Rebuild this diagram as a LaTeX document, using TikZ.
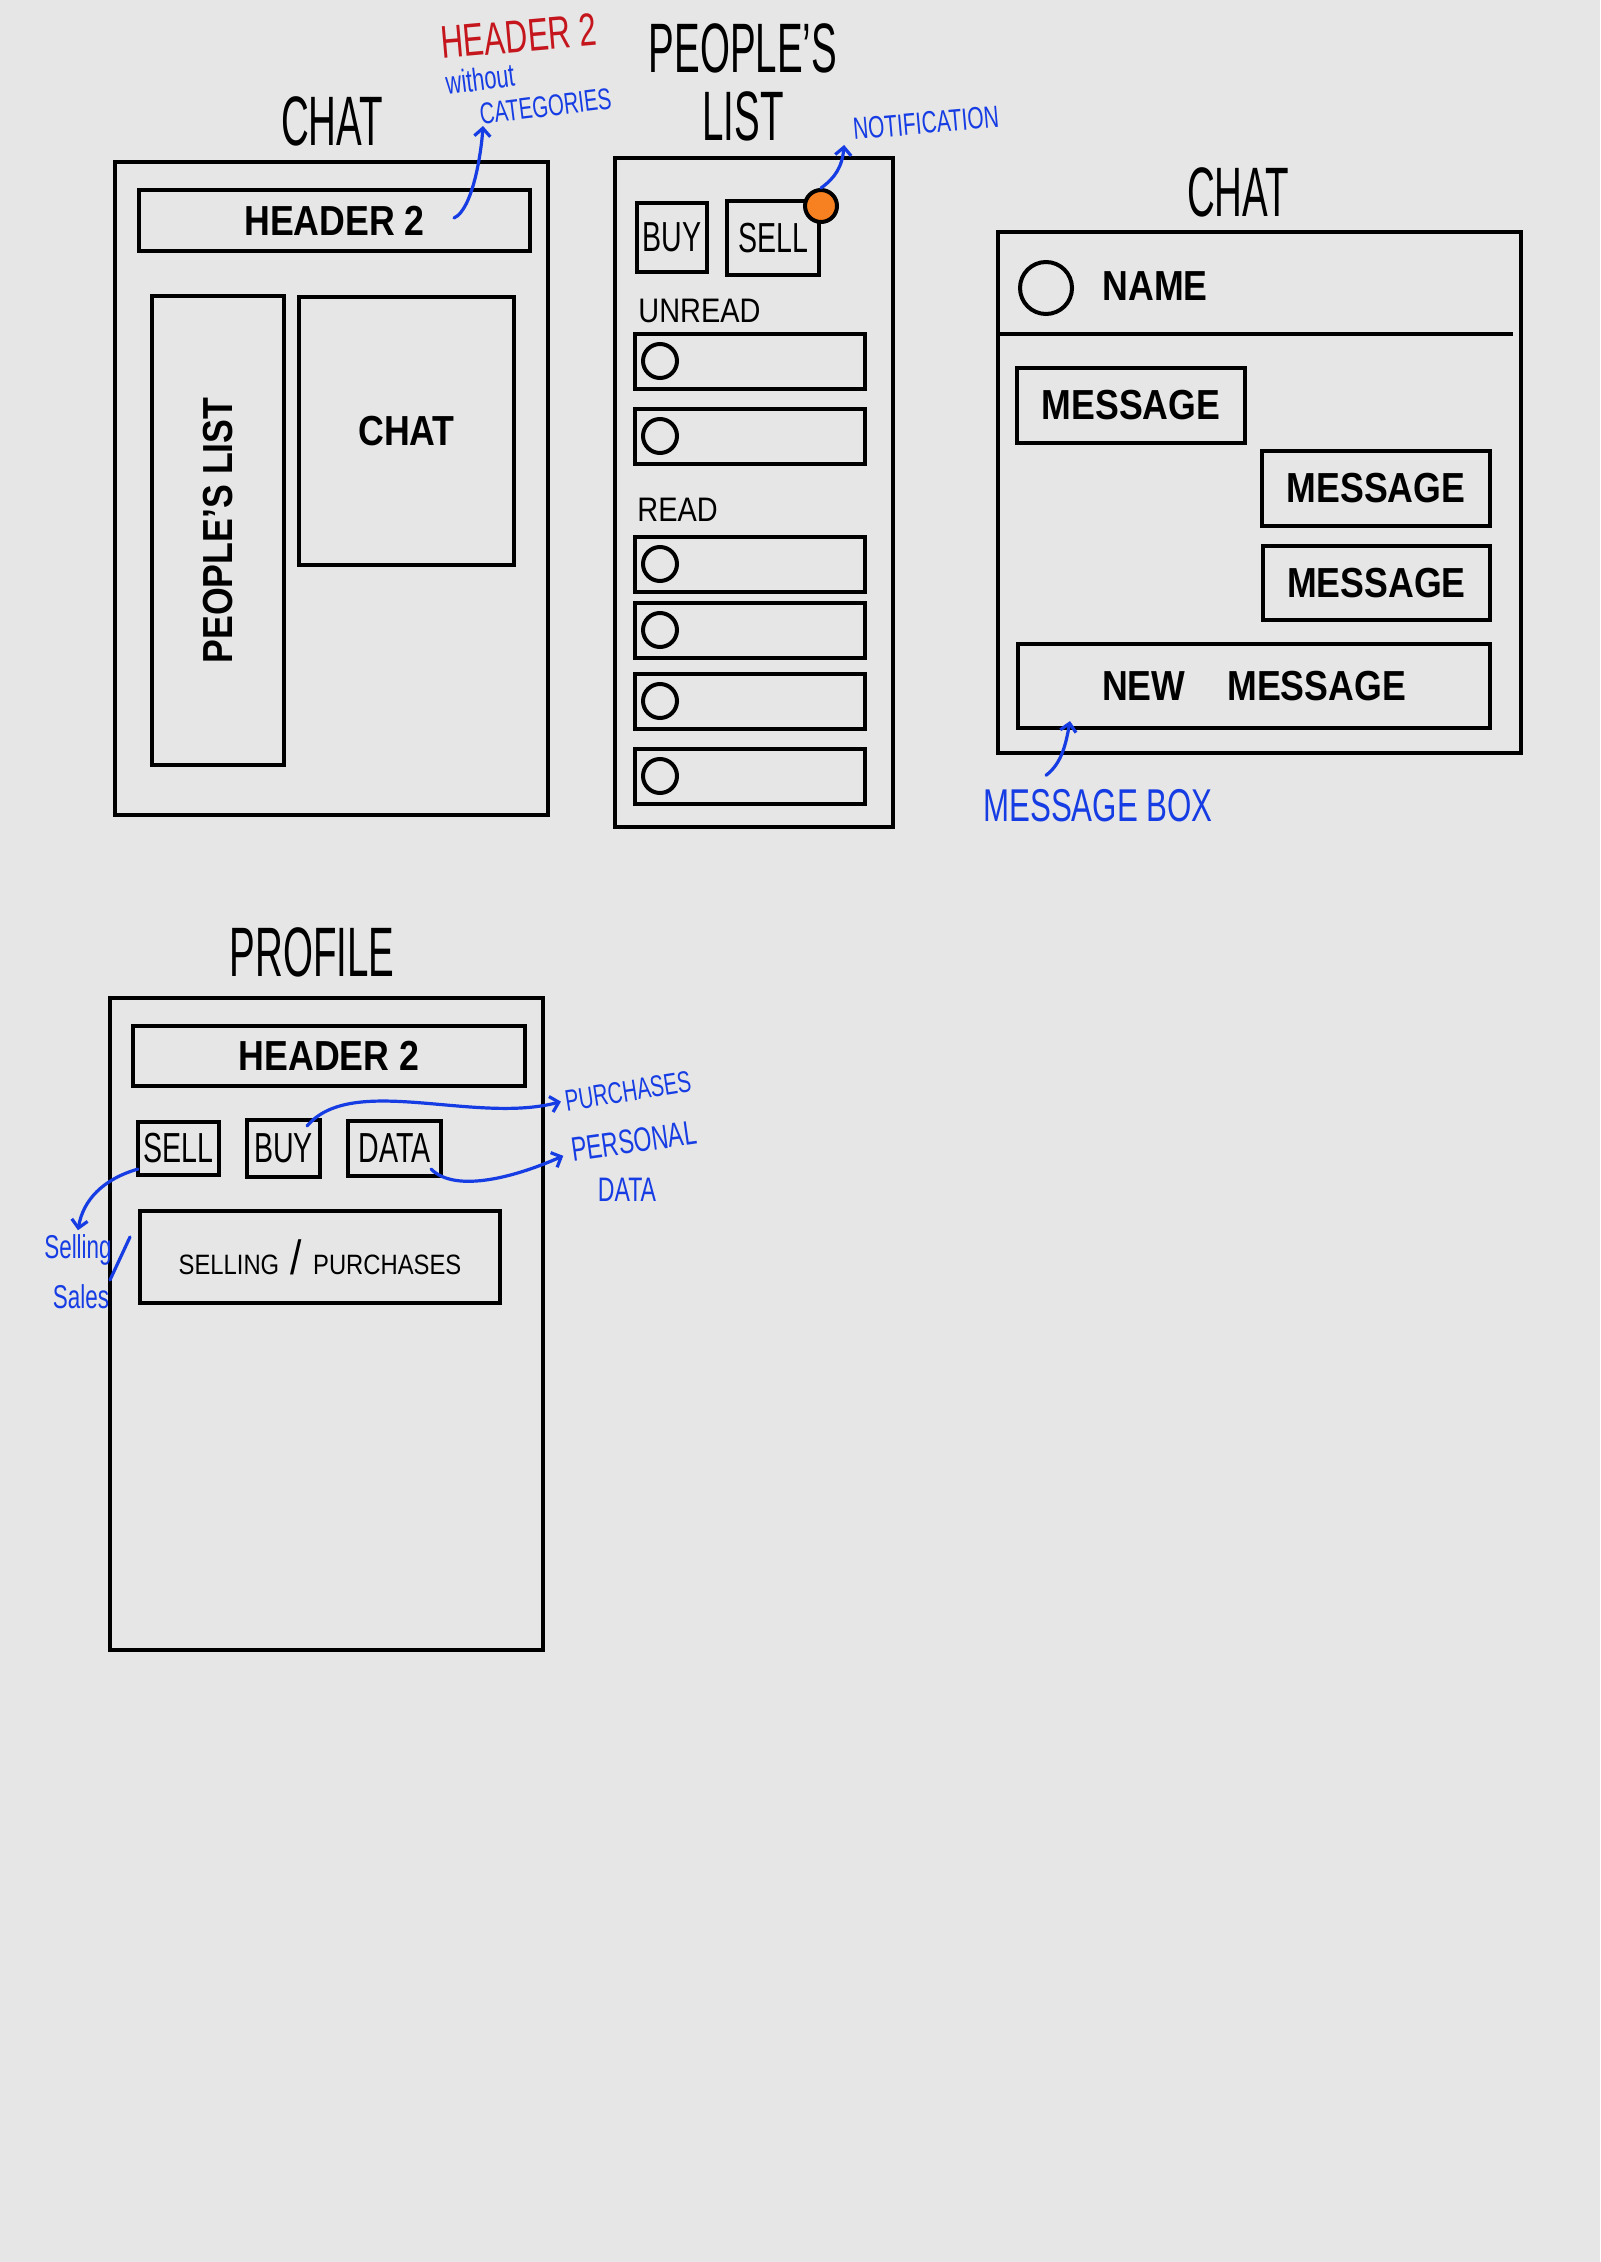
\documentclass[tikz,border=0pt]{standalone}
\usepackage{fontspec}
\setmainfont{Liberation Sans}
\newfontfamily\titlefont[FakeStretch=0.55]{Liberation Sans}
\newfontfamily\handfont[FakeStretch=0.85]{Liberation Sans}
\newfontfamily\slimfont[FakeStretch=0.68]{Liberation Sans}
\usetikzlibrary{fit}
\usetikzlibrary{arrows.meta}
\definecolor{paper}{RGB}{230,230,230}
\definecolor{inkblue}{RGB}{22,60,228}
\definecolor{inkred}{RGB}{196,22,28}
\definecolor{dotorange}{RGB}{247,128,32}
\tikzset{
wirebox/.style={ % frames and boxes, fitted to two corners in pixels
draw, line width=2.1pt, inner sep=0pt, fit={#1}},
sketchtitle/.style={font=\titlefont\fontsize{35}{34}\selectfont, align=center},
boxlabel/.style={font=\handfont\bfseries\fontsize{21}{24}\selectfont},
smalllabel/.style={font=\handfont\fontsize{14}{16}\selectfont},
sectionlabel/.style={font=\handfont\fontsize{17}{19}\selectfont, inner sep=0pt, anchor=west},
tablabel/.style={font=\slimfont\fontsize{21}{23}\selectfont},
avatar/.style={circle, draw, line width=2pt, minimum size=#1pt, inner sep=0pt},
notifdot/.style={circle, draw, fill=dotorange, line width=2pt, minimum size=16pt, inner sep=0pt},
scribble/.style={ % blue hand notes
text=inkblue, inner sep=2pt, font=\slimfont\fontsize{#1}{#1}\selectfont},
scribblearrow/.style={draw=inkblue, line width=1.6pt, -{Straight Barb[length=4pt, width=8pt]}, line cap=round},
scribblemark/.style={draw=inkblue, line width=1.6pt, line cap=round}}

\begin{document}
\begin{tikzpicture}[x=0.5pt, y=-0.5pt]
	\fill[paper] (0,0) rectangle (1600,2262);

	% chat overview
	\node[sketchtitle] (title1) at (332,121) {CHAT};
	\node[wirebox={(115,162) (548,815)}] (chat1) {};
	\node[wirebox={(139,190) (530,251)}] (hdr1) {};
	\node[boxlabel] (hdr1txt) at (hdr1) {HEADER 2};
	\node[wirebox={(152,296) (284,765)}] (plist1) {};
	\node[boxlabel, rotate=90] (plist1txt) at (plist1) {PEOPLE’S LIST};
	\node[wirebox={(299,297) (514,565)}] (chatpane) {};
	\node[boxlabel] (chatpanetxt) at (chatpane) {CHAT};
	\node[scribble=23, text=inkred, rotate=5] (redhdr) at (519,36) {HEADER 2};
	\node[scribble=15, rotate=7, inner sep=0pt, align=left, anchor=south west] (catnote) at (451,129)
		{{\fontsize{16}{12}\selectfont without}\\[2pt]\hspace*{15pt}CATEGORIES};
	\coordinate (hdr1end) at (454,218);
	\draw[scribblearrow] (hdr1end) .. controls +(18,-8) and +(-2,30) .. ([shift={(32,-3)}]catnote.south west);

	% people's list
	\node[sketchtitle] (title2) at (743,82) {PEOPLE’S\\LIST};
	\node[wirebox={(615,158) (893,827)}] (plist) {};
	\node[wirebox={(637,203) (707,272)}] (buy1) {};
	\node[tablabel] (buy1txt) at (buy1) {BUY};
	\node[wirebox={(727,201) (819,275)}] (sell1) {};
	\node[tablabel] (sell1txt) at (sell1) {SELL};
	\node[notifdot] (dot) at (821,206) {};
	\node[scribble=15.4, rotate=5] (notif) at (926,123) {NOTIFICATION};
	\draw[scribblearrow] (dot.north) .. controls +(14,-10) and +(-2,22) .. ([xshift=-3]notif.south west);
	\node[sectionlabel] (unread) at (638,311) {UNREAD};
	\node[sectionlabel] (read) at (637,510) {READ};
	\foreach \row/\yc in {1/361, 2/436, 3/564, 4/630, 5/701, 6/776} {
		\node[wirebox={(635,\yc-27) (865,\yc+28)}] (row\row) {};
		\node[avatar=17] (pic\row) at (660,\yc) {};
	}

	% chat
	\node[sketchtitle] (title3) at (1238,192) {CHAT};
	\node[wirebox={(998,232) (1521,753)}] (chat2) {};
	\node[avatar=26] (face) at (1046,288) {};
	\node[boxlabel] (name) at (1155,286) {NAME};
	\draw[line width=2.1pt] (999,334) -- (1513,334);
	\foreach \m/\xa/\ya/\xb/\yb in {1/1017/368/1245/443, 2/1262/451/1490/526, 3/1263/546/1490/620} {
		\node[wirebox={(\xa,\ya) (\xb,\yb)}] (msg\m) {};
		\node[boxlabel] (msg\m txt) at (msg\m) {MESSAGE};
	}
	\node[wirebox={(1018,644) (1490,728)}] (newmsg) {};
	\node[boxlabel] (newmsgtxt) at (newmsg) {NEW\quad MESSAGE};
	\node[scribble=23] (msgbox) at (1098,806) {MESSAGE BOX};
	\draw[scribblearrow] ([shift={(-52,-10)}]msgbox.north) .. controls +(16,-12) and +(-4,22) .. ([shift={(-184,-9)}]newmsg.south);

	% profile
	\node[sketchtitle] (title4) at (312,952) {PROFILE};
	\node[wirebox={(110,998) (543,1650)}] (profile) {};
	\node[wirebox={(133,1026) (525,1086)}] (hdr2) {};
	\node[boxlabel] (hdr2txt) at (hdr2) {HEADER 2};
	\node[wirebox={(138,1122) (219,1175)}] (psell) {};
	\node[tablabel] (pselltxt) at (psell) {SELL};
	\node[wirebox={(247,1120) (320,1177)}] (pbuy) {};
	\node[tablabel] (pbuytxt) at (pbuy) {BUY};
	\node[wirebox={(348,1121) (441,1176)}] (pdata) {};
	\node[tablabel] (pdatatxt) at (pdata) {DATA};
	\node[wirebox={(140,1211) (500,1303)}] (history) {};
	\node[smalllabel] (historytxt) at (history) {SELLING\, {\fontsize{24}{24}\selectfont /}\, PURCHASES};
	\node[scribble=15, rotate=9] (purch) at (628,1091) {PURCHASES};
	\node[scribble=17, rotate=8, inner sep=0pt] (pers) at (634,1141) {PERSONAL};
	\node[scribble=17, inner sep=0pt] (persdata) at (627,1190) {DATA};
	\node[scribble=16.5] (selling) at (78,1250) {Selling};
	\node[scribble=16.5] (sales) at (81,1297) {Sales};
	\draw[scribblemark] (130,1237) -- (110,1280);
	\draw[scribblearrow] ([shift={(-15,8)}]pbuy.north east) .. controls +(45,-53) and +(-86,23) .. (purch.west);
	\draw[scribblearrow] ([shift={(-12,-9)}]pdata.south east) .. controls +(25,25) and +(-45,20) .. ([shift={(-8,6)}]pers.west);
	\draw[scribblearrow] ([shift={(2,-8)}]psell.south west) .. controls +(-35,10) and +(5,-30) .. (selling.north);
\end{tikzpicture}
\end{document}
